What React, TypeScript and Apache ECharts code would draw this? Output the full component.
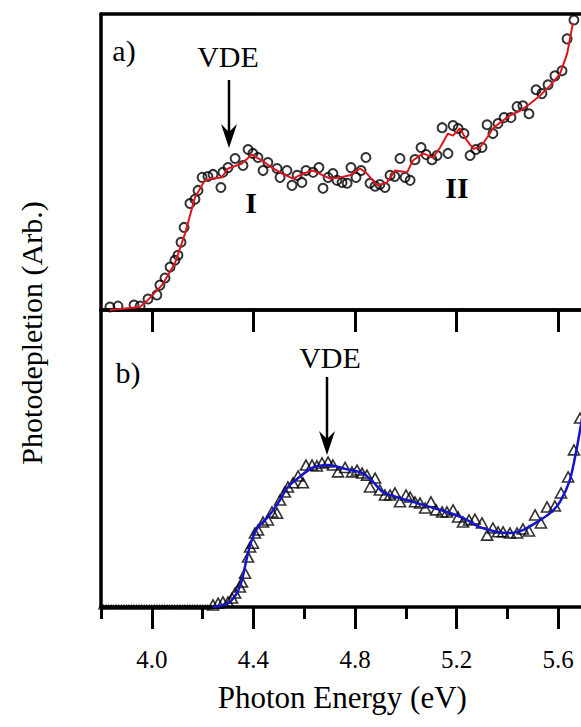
import React, { useEffect, useRef } from "react";
import * as echarts from "echarts";

// ---- Panel a) : measured points (circles) and fitted/smoothed red line ----
const topPointsX = [3.835, 3.867, 3.930, 3.954, 3.985, 4.020, 4.032, 4.052, 4.072, 4.091, 4.103, 4.115, 4.127, 4.150, 4.170, 4.182, 4.198, 4.221, 4.241, 4.272, 4.280, 4.300, 4.328, 4.359, 4.379, 4.398, 4.418, 4.438, 4.457, 4.493, 4.505, 4.532, 4.552, 4.572, 4.591, 4.607, 4.635, 4.658, 4.674, 4.694, 4.713, 4.729, 4.749, 4.769, 4.784, 4.804, 4.824, 4.843, 4.859, 4.879, 4.898, 4.918, 4.938, 4.957, 4.977, 4.997, 5.017, 5.036, 5.060, 5.080, 5.103, 5.123, 5.143, 5.166, 5.186, 5.206, 5.229, 5.253, 5.276, 5.300, 5.320, 5.343, 5.363, 5.387, 5.414, 5.438, 5.461, 5.485, 5.513, 5.536, 5.560, 5.587, 5.615, 5.635, 5.662];
const topPointsY = [1.0, 1.3, 1.7, 1.3, 3.7, 5.1, 8.4, 10.8, 14.5, 16.8, 18.5, 22.9, 27.9, 36.0, 37.4, 40.4, 44.8, 45.1, 45.8, 41.4, 46.5, 48.1, 51.2, 48.8, 54.2, 52.9, 51.5, 47.1, 49.8, 47.8, 44.8, 47.1, 42.1, 45.5, 43.1, 47.1, 46.5, 48.1, 41.1, 44.8, 46.1, 43.8, 43.1, 42.8, 48.1, 44.8, 47.1, 51.5, 42.8, 41.8, 42.4, 41.4, 45.5, 45.1, 51.2, 44.8, 43.8, 50.8, 54.9, 52.5, 50.8, 52.2, 61.6, 52.9, 62.3, 61.3, 59.6, 52.2, 54.2, 54.9, 62.6, 59.6, 63.0, 65.0, 65.0, 68.7, 69.0, 66.3, 74.4, 73.1, 76.1, 79.1, 80.8, 91.6, 98.0];

const topLineX = [3.835, 3.954, 3.985, 4.040, 4.091, 4.131, 4.170, 4.209, 4.237, 4.276, 4.300, 4.355, 4.394, 4.434, 4.473, 4.513, 4.556, 4.595, 4.635, 4.674, 4.702, 4.741, 4.780, 4.820, 4.847, 4.887, 4.926, 4.957, 5.005, 5.028, 5.068, 5.107, 5.135, 5.166, 5.186, 5.213, 5.241, 5.265, 5.292, 5.320, 5.343, 5.371, 5.410, 5.450, 5.489, 5.528, 5.568, 5.607, 5.635, 5.658];
const topLineY = [0.0, 1.0, 3.4, 8.4, 15.8, 25.9, 38.0, 43.8, 44.4, 44.8, 47.8, 49.5, 52.5, 50.5, 48.1, 46.1, 44.4, 46.1, 47.1, 45.5, 44.4, 44.8, 45.5, 47.8, 46.1, 42.1, 43.1, 47.1, 46.5, 50.5, 52.9, 51.5, 54.9, 59.6, 58.9, 61.3, 57.2, 54.5, 54.9, 58.2, 61.3, 63.3, 65.7, 67.3, 69.7, 72.4, 75.8, 79.8, 86.5, 97.0];

// ---- Panel b) : measured points (triangles) and blue fit ----
const baselineX = [3.80, 3.81, 3.82, 3.83, 3.84, 3.85, 3.86, 3.87, 3.88, 3.89, 3.90, 3.91, 3.92, 3.93, 3.94, 3.95, 3.96, 3.97, 3.98, 3.99, 4.00, 4.01, 4.02, 4.03, 4.04, 4.05, 4.06, 4.07, 4.08, 4.09, 4.10, 4.11, 4.12, 4.13, 4.14, 4.15, 4.16, 4.17, 4.18, 4.19, 4.20, 4.21, 4.22, 4.23];
const baselineY = [0, 0, 0, 0, 0, 0, 0, 0, 0, 0, 0, 0, 0, 0, 0, 0, 0, 0, 0, 0, 0, 0, 0, 0, 0, 0, 0, 0, 0, 0, 0, 0, 0, 0, 0, 0, 0, 0, 0, 0, 0, 0, 0, 0];

const botPointsX = [4.241, 4.261, 4.280, 4.300, 4.316, 4.328, 4.347, 4.355, 4.367, 4.379, 4.387, 4.398, 4.406, 4.418, 4.438, 4.457, 4.473, 4.493, 4.505, 4.524, 4.536, 4.556, 4.576, 4.595, 4.607, 4.631, 4.650, 4.670, 4.694, 4.713, 4.733, 4.761, 4.788, 4.808, 4.828, 4.847, 4.859, 4.879, 4.898, 4.918, 4.938, 4.957, 4.977, 5.001, 5.017, 5.036, 5.056, 5.076, 5.099, 5.119, 5.143, 5.162, 5.186, 5.206, 5.225, 5.249, 5.272, 5.300, 5.320, 5.343, 5.363, 5.383, 5.410, 5.438, 5.461, 5.485, 5.509, 5.532, 5.556, 5.587, 5.611, 5.639, 5.662, 5.686];
const botPointsY = [0.7, 1.3, 1.7, 1.7, 3.0, 4.7, 6.7, 8.4, 11.4, 16.8, 20.2, 21.5, 24.9, 25.9, 28.6, 29.3, 32.0, 31.6, 36.0, 38.7, 40.4, 41.8, 44.1, 41.8, 47.8, 47.8, 47.5, 48.5, 48.8, 47.8, 45.5, 47.0, 45.5, 46.1, 45.1, 44.4, 40.4, 43.4, 39.4, 37.7, 37.7, 38.4, 35.4, 37.7, 37.0, 35.4, 35.0, 33.3, 35.4, 32.7, 32.0, 32.0, 32.7, 30.3, 28.6, 29.3, 29.6, 28.3, 24.2, 26.6, 25.3, 25.3, 24.9, 24.9, 26.3, 25.6, 31.0, 28.3, 33.7, 34.0, 38.4, 43.8, 52.9, 63.6];

const botLineX = [4.241, 4.300, 4.335, 4.355, 4.375, 4.394, 4.418, 4.457, 4.497, 4.536, 4.576, 4.631, 4.694, 4.749, 4.780, 4.831, 4.871, 4.910, 4.965, 5.028, 5.095, 5.162, 5.225, 5.292, 5.359, 5.410, 5.461, 5.517, 5.568, 5.607, 5.646, 5.674, 5.694];
const botLineY = [0.0, 1.3, 4.7, 9.1, 16.8, 22.6, 26.9, 30.3, 35.0, 40.4, 43.4, 46.8, 47.8, 46.8, 46.1, 45.1, 42.1, 38.7, 37.0, 35.4, 33.7, 32.0, 30.0, 26.9, 25.3, 24.9, 25.9, 28.6, 31.6, 35.4, 42.8, 53.9, 63.6];

// ---- Axis tick labels ----
const majorTicks = [4.0, 4.4, 4.8, 5.2, 5.6];
const minorTicks = [3.8, 4.2, 4.6, 5.0, 5.4];

const zip = (xs: number[], ys: number[]) => xs.map((x, i) => [x, ys[i]]);

const FONT = "Liberation Serif";
const AXIS_W = 3.5;

export default function App() {
  const ref = useRef<HTMLDivElement>(null);

  useEffect(() => {
    if (!ref.current) return;
    const chart = echarts.init(ref.current, null, { renderer: "svg" });

    const baseX = {
      type: "value",
      min: 3.8,
      max: 5.7,
      splitLine: { show: false },
      axisLine: { show: true, onZero: false, lineStyle: { color: "#000", width: AXIS_W } },
      axisTick: { show: false },
      axisLabel: { show: false },
    };
    const tickStyle = { color: "#000", width: 3 };

    const text = (t: string, x: number, y: number, size = 30, weight = "normal", rotation = 0) => ({
      type: "text",
      x,
      y,
      rotation,
      style: {
        text: t,
        x: 0,
        y: 0,
        align: "center",
        verticalAlign: "middle",
        fontFamily: FONT,
        fontSize: size,
        fontWeight: weight,
        fill: "#000",
      },
      z: 100,
    });

    const arrow = (x: number, y0: number, y1: number) => [
      {
        type: "line",
        shape: { x1: x, y1: y0, x2: x, y2: y1 - 8 },
        style: { stroke: "#000", lineWidth: 2.5 },
        z: 100,
      },
      {
        type: "polygon",
        shape: { points: [[x, y1], [x - 8, y1 - 24], [x, y1 - 16], [x + 8, y1 - 24]] },
        style: { fill: "#000" },
        z: 100,
      },
    ];

    chart.setOption({
      animation: false,
      backgroundColor: "#fff",
      textStyle: { fontFamily: FONT },
      grid: [
        { left: 101, top: 14, right: -2.6, height: 296, outerBoundsMode: "none", containLabel: false },
        { left: 101, top: 310, right: -2.6, height: 297, outerBoundsMode: "none", containLabel: false },
      ],
      xAxis: [
        { ...baseX, gridIndex: 0, position: "bottom" },
        { ...baseX, gridIndex: 0, position: "top" },
        {
          ...baseX,
          gridIndex: 1,
          position: "top",
          axisTick: { show: true, inside: true, length: 22, customValues: majorTicks, lineStyle: tickStyle },
        },
        {
          ...baseX,
          gridIndex: 1,
          position: "top",
          axisLine: { show: false },
          axisTick: { show: true, inside: true, length: 11, customValues: minorTicks, lineStyle: tickStyle },
        },
        {
          ...baseX,
          gridIndex: 1,
          position: "bottom",
          axisTick: { show: true, inside: false, length: 22, customValues: majorTicks, lineStyle: tickStyle },
          axisLabel: {
            show: true,
            customValues: majorTicks,
            formatter: (v: number) => v.toFixed(1),
            fontFamily: FONT,
            fontSize: 25,
            color: "#000",
            margin: 40,
          },
          name: "Photon Energy (eV)",
          nameLocation: "middle",
          nameGap: 75,
          nameTextStyle: { fontFamily: FONT, fontSize: 31, color: "#000" },
        },
        {
          ...baseX,
          gridIndex: 1,
          position: "bottom",
          axisLine: { show: false },
          axisTick: { show: true, inside: false, length: 12, customValues: minorTicks, lineStyle: tickStyle },
        },
      ],
      yAxis: [
        {
          type: "value",
          gridIndex: 0,
          min: 0,
          max: 100,
          axisLine: { show: true, lineStyle: { color: "#000", width: AXIS_W } },
          axisTick: { show: false },
          axisLabel: { show: false },
          splitLine: { show: false },
        },
        {
          type: "value",
          gridIndex: 1,
          min: 0,
          max: 100,
          axisLine: { show: true, lineStyle: { color: "#000", width: AXIS_W } },
          axisTick: { show: false },
          axisLabel: { show: false },
          splitLine: { show: false },
        },
      ],
      series: [
        {
          name: "a) data",
          type: "scatter",
          xAxisIndex: 0,
          yAxisIndex: 0,
          symbol: "circle",
          symbolSize: 9,
          itemStyle: { color: "rgba(255,255,255,0)", borderColor: "#000", borderWidth: 2 },
          data: zip(topPointsX, topPointsY),
          z: 2,
        },
        {
          name: "a) fit",
          type: "line",
          xAxisIndex: 0,
          yAxisIndex: 0,
          showSymbol: false,
          lineStyle: { color: "#e0161e", width: 2 },
          data: zip(topLineX, topLineY),
          z: 3,
        },
        {
          name: "b) baseline",
          type: "scatter",
          xAxisIndex: 4,
          yAxisIndex: 1,
          symbol: "triangle",
          symbolSize: [5, 4],
          itemStyle: { color: "rgba(255,255,255,0)", borderColor: "#000", borderWidth: 1 },
          data: zip(baselineX, baselineY),
          z: 2,
        },
        {
          name: "b) data",
          type: "scatter",
          xAxisIndex: 4,
          yAxisIndex: 1,
          symbol: "triangle",
          symbolSize: [11, 10],
          itemStyle: { color: "rgba(255,255,255,0)", borderColor: "#000", borderWidth: 1.6 },
          data: zip(botPointsX, botPointsY),
          z: 2,
        },
        {
          name: "b) fit",
          type: "line",
          xAxisIndex: 4,
          yAxisIndex: 1,
          showSymbol: false,
          smooth: 0.3,
          lineStyle: { color: "#1414cc", width: 2.5 },
          data: zip(botLineX, botLineY),
          z: 3,
        },
      ],
      graphic: [
        text("Photodepletion (Arb.)", 31, 333, 30, "normal", Math.PI / 2),
        text("a)", 124, 50),
        text("VDE", 228, 56),
        ...arrow(229, 80, 148),
        text("I", 251, 202, 30, "bold"),
        text("II", 457, 187, 30, "bold"),
        text("b)", 128, 372),
        text("VDE", 330, 357),
        ...arrow(327, 377, 455),
      ],
    });

    return () => chart.dispose();
  }, []);

  return (
    <div
      ref={ref}
      style={{ position: "fixed", left: 0, top: 0, width: 581, height: 727, background: "#fff" }}
    />
  );
}
